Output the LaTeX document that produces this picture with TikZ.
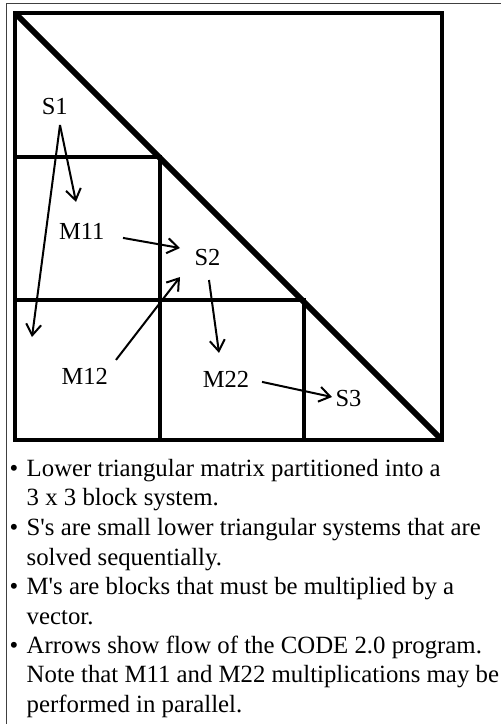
\documentclass[tikz,border=0pt]{standalone}
\usepackage{fontspec}
\setmainfont{Liberation Serif}[Ligatures=TeXOff]
\usetikzlibrary{arrows.meta}
\begin{document}
\begin{tikzpicture}[x=1pt,y=-1pt,
  lbl/.style={font=\fontsize{24.5}{29}\selectfont, inner sep=0pt, anchor=base},
  txt/.style={font=\fontsize{24.8}{29}\selectfont, inner sep=0pt, anchor=base west},
  arr/.style={line width=2pt, -{Straight Barb[length=11pt,width=15pt]}},
  frame/.style={line width=1pt, black!75},
  outer/.style={line width=4.5pt},
  grid/.style={line width=3.3pt},
  diag/.style={line width=6pt}]
\useasboundingbox (0,0) rectangle (501,724);
% thin frame
\draw[frame] (6,724) -- (6,3) -- (501,3);
% matrix
\draw[grid] (15,157) -- (160,157) -- (160,440);
\draw[grid] (15,300) -- (304,300) -- (304,440);
\begin{scope}
\clip (15,13) rectangle (442,440);
\draw[diag] (10,8) -- (447,445);
\end{scope}
\draw[outer] (15,13) rectangle (442,440);
% labels
\node[lbl] (S1)  at (54.7,114) {S1};
\node[lbl] (M11) at (81.7,239) {M11};
\node[lbl] (S2)  at (207.5,265) {S2};
\node[lbl] (M12) at (84.7,384) {M12};
\node[lbl] (M22) at (226,387) {M22};
\node[lbl] (S3)  at (348.5,406) {S3};
\coordinate (c1) at (32,337);
% arrows
\draw[arr] ([shift={(5.3,19)}]S1.center) -- ([shift={(-5.7,-29)}]M11.center);
\draw[arr] ([shift={(5.3,19)}]S1.center) -- (c1);
\draw[arr] ([shift={(41.3,7)}]M11.center) -- ([shift={(-27.5,-9)}]S2.center);
\draw[arr] ([shift={(31.3,-16)}]M12.center) -- ([shift={(-27.5,20)}]S2.center);
\draw[arr] ([shift={(1.5,23)}]S2.center) -- ([shift={(-7,-26)}]M22.center);
\draw[arr] ([shift={(36,3)}]M22.center) -- ([shift={(-16.5,-1)}]S3.center);
% bullets and text
\foreach \y/\n in {476/b1, 535.5/b2, 594.5/b3, 653/b4}
  \node[txt] (\n) at (9.5,\y) {\textbullet};
\node[txt] (t1) at (26.5,476)   {Lower triangular matrix partitioned into a};
\node[txt] (t2) at (26.5,505.5) {3 x 3 block system.};
\node[txt] (t3) at (26.5,535.5) {S's are small lower triangular systems that are};
\node[txt] (t4) at (26.5,565)   {solved sequentially.};
\node[txt] (t5) at (26.5,594.5) {M's are blocks that must be multiplied by a};
\node[txt] (t6) at (26.5,624)   {vector.};
\node[txt] (t7) at (26.5,653)   {Arrows show flow of the CODE 2.0 program.};
\node[txt] (t8) at (26.5,682.5) {Note that M11 and M22 multiplications may be};
\node[txt] (t9) at (26.5,712)   {performed in parallel.};
\end{tikzpicture}
\end{document}
